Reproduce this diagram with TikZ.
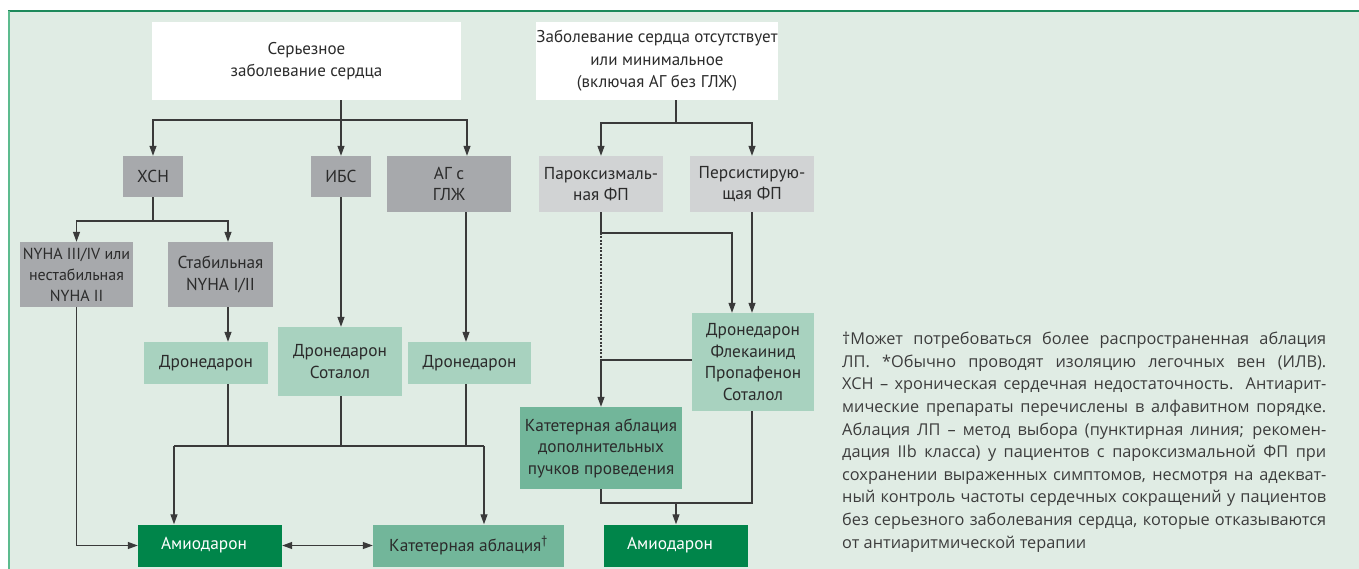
\documentclass[tikz,border=0pt]{standalone}
\usepackage{fontspec}
\setmainfont{PT Sans}
\newfontfamily\legfam{Open Sans}
\usetikzlibrary{arrows.meta}
\definecolor{bgc}{HTML}{E0ECE4}
\definecolor{topc}{HTML}{1E8A5C}
\definecolor{leftc}{HTML}{5DBB8E}
\definecolor{txt}{HTML}{2B2B2B}
\definecolor{legtxt}{HTML}{3C3C3C}
\definecolor{dgray}{HTML}{A7A9AC}
\definecolor{lgray}{HTML}{D1D3D4}
\definecolor{lgreen}{HTML}{A8D2BF}
\definecolor{mgreen}{HTML}{72B69A}
\definecolor{dgreen}{HTML}{00854A}
\definecolor{linec}{HTML}{3A3A3A}
\newcommand\bxf{\fontsize{17.3}{21.5}\selectfont}
\newcommand\topf{\fontsize{17}{22.5}\selectfont}
\newcommand\smf{\fontsize{16}{21}\selectfont}
\newcommand\legf{\legfam\fontsize{16.3}{22.6}\selectfont}
\begin{document}
\begin{tikzpicture}[x=1pt,y=-1pt,
  box/.style={inner sep=0pt, align=center, font=\bxf, text=txt},
  wbox/.style={box, fill=white, font=\topf},
  gbox/.style={box, fill=dgray},
  lgbox/.style={box, fill=lgray},
  lgrbox/.style={box, fill=lgreen},
  mgrbox/.style={box, fill=mgreen},
  dgrbox/.style={box, fill=dgreen, text=white},
  conn/.style={draw=linec, line width=1.2pt},
  arr/.style={conn, -{Triangle[length=10pt,width=7pt]}},
  arrb/.style={conn, {Triangle[length=10pt,width=7pt]}-{Triangle[length=10pt,width=7pt]}},
  dsh/.style={draw=linec, line width=1.1pt, dash pattern=on 2pt off 1.5pt}]
\useasboundingbox (0,0) rectangle (1359,569);
\fill[white] (0,0) rectangle (1359,569);
\fill[bgc] (9,12) rectangle (1359,569);
\draw[topc, line width=2pt] (8,11.5) -- (1359,11.5);
\draw[leftc, line width=2pt] (9,11) -- (9,569);

% left part
\node[wbox, minimum width=309, minimum height=78] (sh) at (306.5,61) {Серьезное\\заболевание сердца};
\node[gbox, minimum width=60, minimum height=41] (xsn) at (153,176.5) {ХСН};
\node[gbox, minimum width=60, minimum height=41] (ibs) at (341,176.5) {ИБС};
\node[gbox, minimum width=124, minimum height=56] (ag) at (449,184) {АГ с\\ГЛЖ};
\node[gbox, minimum width=113, minimum height=65, font=\smf] (ny3) at (76.5,274.5) {NYHA III/IV или\\нестабильная\\NYHA II};
\node[gbox, minimum width=105, minimum height=65] (stab) at (220.5,274.5) {Стабильная\\NYHA I/II};
\node[lgrbox, minimum width=124, minimum height=42] (dr1) at (206,363) {Дронедарон};
\node[lgrbox, minimum width=124, minimum height=69] (drs) at (340,361.5) {Дронедарон\\Соталол};
\node[lgrbox, minimum width=123, minimum height=42] (dr2) at (469.5,363) {Дронедарон};
\node[dgrbox, minimum width=144, minimum height=42] (am1) at (210,545.5) {\kern-12pt Амиодарон};
\node[mgrbox, minimum width=191, minimum height=42] (ka) at (468.5,545.5) {Катетерная аблация\textsuperscript{†}};

% right part
\node[wbox, minimum width=234, minimum height=78] (nd) at (657,61) {Заболевание сердца отсутствует\\или минимальное\\(включая АГ без ГЛЖ)};
\node[lgbox, minimum width=124, minimum height=56] (par) at (601,184) {Пароксизмаль-\\ная ФП};
\node[lgbox, minimum width=124, minimum height=56] (per) at (752,184) {Персистирую-\\щая ФП};
\node[lgrbox, minimum width=122, minimum height=98] (fl) at (753,362) {Дронедарон\\Флекаинид\\Пропафенон\\Соталол};
\node[mgrbox, minimum width=162, minimum height=82] (kad) at (601,448) {Катетерная аблация\\дополнительных\\пучков проведения};
\node[dgrbox, minimum width=144, minimum height=42] (am2) at (676,545.5) {\kern-12pt Амиодарон};

% legend
\node[anchor=north west, inner sep=0pt, align=left, font=\legf, text=legtxt] (leg) at (842,332) {%
\makebox[484pt][s]{†Может потребоваться более распространенная аблация}\\
\makebox[484pt][s]{ЛП. *Обычно проводят изоляцию легочных вен (ИЛВ).}\\
\makebox[484pt][s]{ХСН – хроническая сердечная недостаточность. Антиарит-}\\
\makebox[484pt][s]{мические препараты перечислены в алфавитном порядке.}\\
\makebox[484pt][s]{Аблация ЛП – метод выбора (пунктирная линия; рекомен-}\\
\makebox[484pt][s]{дация IIb класса) у пациентов с пароксизмальной ФП при}\\
\makebox[484pt][s]{сохранении выраженных симптомов, несмотря на адекват-}\\
\makebox[484pt][s]{ный контроль частоты сердечных сокращений у пациентов}\\
\makebox[484pt][s]{без серьезного заболевания сердца, которые отказываются}\\
\makebox[484pt][l]{от антиаритмической терапии}};

% connectors left
\coordinate (j1) at (341,120);
\draw[arr] (ibs.north |- sh.south) -- (ibs.north);
\draw[conn] (j1) -- (xsn.north |- j1);
\draw[arr] (j1) -| (xsn.north);
\draw[arr] (j1) -| ([xshift=18pt]ag.north);
\coordinate (j2) at (153,221);
\draw[conn] (xsn.south) -- (j2);
\draw[arr] (j2) -| (ny3.north);
\draw[arr] (j2) -| ([xshift=7.5pt]stab.north);
\draw[arr] ([xshift=7.5pt]stab.south) -- ([xshift=7.5pt]stab.south |- dr1.north);
\draw[arr] (ibs.south) -- (ibs.south |- drs.north);
\draw[arr] ([xshift=17pt]ag.south) -- ([xshift=17pt]ag.south |- dr2.north);
\coordinate (j3) at (174,446);
\coordinate (j4) at (484,446);
\draw[conn] (j3) -- (j4);
\draw[conn] ([xshift=22pt]dr1.south) -- ([xshift=22pt]dr1.south |- j3);
\draw[conn] ([xshift=1pt]drs.south) -- ([xshift=1pt]drs.south |- j3);
\draw[conn] ([xshift=-3.5pt]dr2.south) -- ([xshift=-3.5pt]dr2.south |- j3);
\draw[arr] (j3) -- (j3 |- am1.north);
\draw[arr] (j4) -- (j4 |- ka.north);
\draw[arr] (ny3.south) |- (am1.west);
\draw[arrb] (am1.east) -- (ka.west);

% connectors right
\coordinate (j5) at (676,123);
\draw[conn] ([xshift=19pt]nd.south) -- (j5);
\draw[arr] (j5) -| (par.north);
\draw[arr] (j5) -| (per.north);
\coordinate (j6) at (601,233);
\draw[conn] (par.south) -- (j6);
\draw[arr] (j6) -| ([xshift=-21pt]fl.north);
\draw[arr] (per.south) -- (per.south |- fl.north);
\coordinate (j7) at (601,360);
\draw[dsh] (j6) -- (j7);
\draw[conn] (j7) -- (j7 -| fl.west);
\draw[arr] (j7) -- (j7 |- kad.north);
\coordinate (j8) at (676,503);
\draw[conn] ([xshift=-1pt]fl.south) |- (j8);
\draw[conn] (kad.south) |- (j8);
\draw[arr] (j8) -- (am2.north);
\end{tikzpicture}
\end{document}
